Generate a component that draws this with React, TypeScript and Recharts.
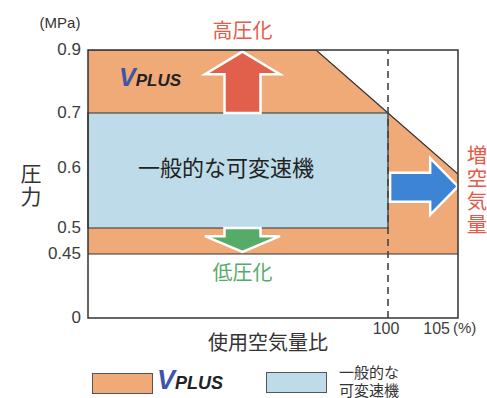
import { ComposedChart, Area, XAxis, YAxis, ReferenceArea, ReferenceLine, ReferenceDot, Legend } from "recharts";

// axis ticks
const yTicks = [0, 0.45, 0.5, 0.6, 0.7, 0.9];
const xTicks = [100, 105];

// VPLUS operating envelope (x = air volume %, y = MPa)
const vplusX = [0, 76, 100, 105];
const vplusLow = [0.45, 0.45, 0.45, 0.45];
const vplusHigh = [0.9, 0.9, 0.7, 0.59];

// typical variable speed machine range
const vsdX = [0, 100];
const vsdY = [0.5, 0.7];

// arrow boxes in data units
const upArrowX = [39, 64];
const upArrowY = [0.7, 0.895];
const downArrowX = [39, 64];
const downArrowY = [0.454, 0.5];
const rightArrowX = [100.15, 105];
const rightArrowY = [0.522, 0.618];
const logoPos = [20.7, 0.805];

const legendItems = [
  { key: "vplus", color: "#f0aa78" },
  { key: "vsd", color: "#bddbe8", lines: ["一般的な", "可変速機"] },
];

// the printed axes are not linear, so map values piecewise onto pixel units
const Y_KNOTS = [0, 0.45, 0.5, 0.6, 0.7, 0.9];
const Y_PIX = [0, 64, 90, 150, 205, 268];
const X_KNOTS = [0, 100, 105];
const X_PIX = [0, 300, 370];

const piece = (v: number, k: number[], p: number[]) => {
  let i = 0;
  while (i < k.length - 2 && v > k[i + 1]) i++;
  return p[i] + ((v - k[i]) / (k[i + 1] - k[i])) * (p[i + 1] - p[i]);
};
const ty = (v: number) => piece(v, Y_KNOTS, Y_PIX);
const tx = (v: number) => piece(v, X_KNOTS, X_PIX);

const SANS = '"Liberation Sans", Arial, sans-serif';
const JP = '"Noto Sans CJK JP", sans-serif';
const ORANGE = "#f0aa78";
const BLUE = "#bddbe8";
const RED = "#e55a48";
const GREEN = "#56ab68";

const areaData = vplusX.map((x, i) => ({ x: tx(x), band: [ty(vplusLow[i]), ty(vplusHigh[i])] }));

const YTick = ({ x, y, payload }: any) => {
  const v = yTicks.find((t) => Math.abs(ty(t) - payload.value) < 1e-6);
  return (
    <text x={x + 1} y={y - 1} dy="0.35em" textAnchor="end" fontSize={17} fill="#3c3c3c" fontFamily={SANS}>
      {v}
    </text>
  );
};

const XTick = ({ x, y, payload }: any) => {
  const v = xTicks.find((t) => Math.abs(tx(t) - payload.value) < 1e-6);
  if (v === 105)
    return (
      <g fontFamily={SANS} fill="#3c3c3c">
        <text x={x - 8} y={y + 2} dy="0.35em" textAnchor="end" fontSize={16}>{v}</text>
        <text x={x - 5} y={y + 2} dy="0.35em" textAnchor="start" fontSize={15}>(%)</text>
      </g>
    );
  return (
    <text x={x - 2} y={y + 2} dy="0.35em" textAnchor="middle" fontSize={16} fill="#3c3c3c" fontFamily={SANS}>
      {v}
    </text>
  );
};

// vertical CJK text, one glyph per tspan
const VText = ({ x, y, step, chars, ...rest }: any) => (
  <text textAnchor="middle" fontFamily={JP} {...rest}>
    {chars.split("").map((ch: string, i: number) => (
      <tspan key={i} x={x} y={y + i * step} dy="0.35em">{ch}</tspan>
    ))}
  </text>
);

const Logo = ({ x, y, big }: { x: number; y: number; big?: boolean }) => (
  <text x={x} y={y} textAnchor="middle" dy="0.35em" fontFamily={SANS} fontStyle="italic" fontWeight={900}>
    <tspan fill="#3d55a8" fontSize={big ? 27 : 25}>V</tspan>
    <tspan fill="#222" fontSize={big ? 18 : 17}>PLUS</tspan>
  </text>
);

const UpArrow = ({ x, y, width: w, height: h }: any) => {
  const hh = h * 0.37, sw = w * 0.24, c = x + w / 2;
  const pts = [[c, y], [x + w, y + hh], [c + sw, y + hh], [c + sw, y + h], [c - sw, y + h], [c - sw, y + hh], [x, y + hh]];
  return (
    <g>
      <polygon points={pts.map((p) => p.join(",")).join(" ")} fill="#e0604c" stroke="#fff" strokeWidth={2.5} />
      <text x={c} y={y - 21} dy="0.35em" textAnchor="middle" fontSize={20} fill={RED} fontFamily={JP}>高圧化</text>
    </g>
  );
};

const DownArrow = ({ x, y, width: w, height: h }: any) => {
  const sh = h * 0.34, sw = w * 0.24, c = x + w / 2;
  const pts = [[c - sw, y], [c + sw, y], [c + sw, y + sh], [x + w, y + sh], [c, y + h], [x, y + sh], [c - sw, y + sh]];
  return (
    <g>
      <polygon points={pts.map((p) => p.join(",")).join(" ")} fill={GREEN} stroke="#fff" strokeWidth={2.5} />
      <text x={c} y={y + h + 21} dy="0.35em" textAnchor="middle" fontSize={20} fill={GREEN} fontFamily={JP}>低圧化</text>
    </g>
  );
};

const RightArrow = ({ x, y, width: w, height: h }: any) => {
  const hx = x + w * 0.59, t = y + h * 0.26, b = y + h * 0.77;
  const pts = [[x, t], [hx, t], [hx, y], [x + w, y + h / 2], [hx, y + h], [hx, b], [x, b]];
  return (
    <g>
      <polygon points={pts.map((p) => p.join(",")).join(" ")} fill="#3d85d4" stroke="#fff" strokeWidth={2.5} />
      <VText x={x + w + 19} y={y - 2} step={23} chars="増空気量" fontSize={20.5} fill={RED} />
    </g>
  );
};

const YLabel = ({ viewBox }: any) => (
  <g fill="#333">
    <text x={viewBox.x + 60} y={viewBox.y - 27} dy="0.35em" textAnchor="middle" fontSize={15} fontFamily={SANS}>(MPa)</text>
    <VText x={viewBox.x + 31} y={viewBox.y + 124} step={23} chars="圧力" fontSize={21} />
  </g>
);

const XLabel = ({ viewBox }: any) => (
  <text x={viewBox.x + 180} y={viewBox.y + 25} dy="0.35em" textAnchor="middle" fontSize={20} fill="#333" fontFamily={JP}>
    使用空気量比
  </text>
);

const CenterLabel = ({ viewBox }: any) => (
  <text x={viewBox.x + viewBox.width / 2 - 12} y={viewBox.y + viewBox.height / 2 - 2} dy="0.35em" textAnchor="middle" fontSize={22} fill="#222" fontFamily={JP}>
    一般的な可変速機
  </text>
);

const LegendBox = () => (
  <div style={{ position: "relative", width: 487, height: 38 }}>
    {legendItems.map((it, i) => (
      <div key={it.key} style={{ position: "absolute", left: i === 0 ? 92 : 266, top: i === 0 ? 13 : 12, width: 59, height: 19, background: it.color, border: "1px solid #555" }} />
    ))}
    <svg style={{ position: "absolute", left: 145, top: 4, overflow: "visible" }} width={90} height={34}>
      <Logo x={45} y={19} big />
    </svg>
    <div style={{ position: "absolute", left: 339, top: 3, fontFamily: JP, fontSize: 15, lineHeight: "17.5px", color: "#333" }}>
      {legendItems[1].lines![0]}<br />{legendItems[1].lines![1]}
    </div>
  </div>
);

export default function App() {
  return (
    <div style={{ position: "absolute", left: 0, top: 0 }}>
      <ComposedChart width={487} height={398} data={areaData} margin={{ top: 50, right: 29, bottom: 50, left: 0 }}>
        <XAxis type="number" dataKey="x" domain={[0, 370]} allowDataOverflow ticks={xTicks.map(tx)} height={30}
          axisLine={false} tickLine={false} tick={<XTick />} label={{ content: <XLabel /> }} />
        <YAxis type="number" domain={[0, 268]} allowDataOverflow ticks={yTicks.map(ty)} width={88}
          axisLine={false} tickLine={false} tick={<YTick />} label={{ content: <YLabel /> }} />
        <Area dataKey="band" type="linear" fill={ORANGE} fillOpacity={1} stroke="#333" strokeWidth={1.2}
          isAnimationActive={false} dot={false} activeDot={false} />
        <ReferenceLine x={tx(100)} stroke="#444" strokeWidth={1.6} strokeDasharray="7 5" />
        <ReferenceArea x1={tx(vsdX[0])} x2={tx(vsdX[1])} y1={ty(vsdY[0])} y2={ty(vsdY[1])} fill={BLUE} fillOpacity={1}
          stroke="#333" strokeWidth={1.2} label={{ content: <CenterLabel /> }} />
        <ReferenceArea x1={tx(upArrowX[0])} x2={tx(upArrowX[1])} y1={ty(upArrowY[0])} y2={ty(upArrowY[1])} ifOverflow="visible" shape={(p: any) => <UpArrow {...p} />} />
        <ReferenceArea x1={tx(downArrowX[0])} x2={tx(downArrowX[1])} y1={ty(downArrowY[0])} y2={ty(downArrowY[1])} ifOverflow="visible" shape={(p: any) => <DownArrow {...p} />} />
        <ReferenceArea x1={tx(rightArrowX[0])} x2={tx(rightArrowX[1])} y1={ty(rightArrowY[0])} y2={ty(rightArrowY[1])} ifOverflow="visible" shape={(p: any) => <RightArrow {...p} />} />
        <ReferenceDot x={tx(logoPos[0])} y={ty(logoPos[1])} r={0} shape={(p: any) => <Logo x={p.cx} y={p.cy} />} />
        <ReferenceArea x1={0} x2={370} y1={0} y2={268} fill="none" stroke="#333" strokeWidth={1.5} />
        <Legend verticalAlign="middle" align="center" layout="horizontal"
          wrapperStyle={{ position: "absolute", top: 360, left: 0, width: 487, height: 38 }} content={() => <LegendBox />} />
      </ComposedChart>
    </div>
  );
}
